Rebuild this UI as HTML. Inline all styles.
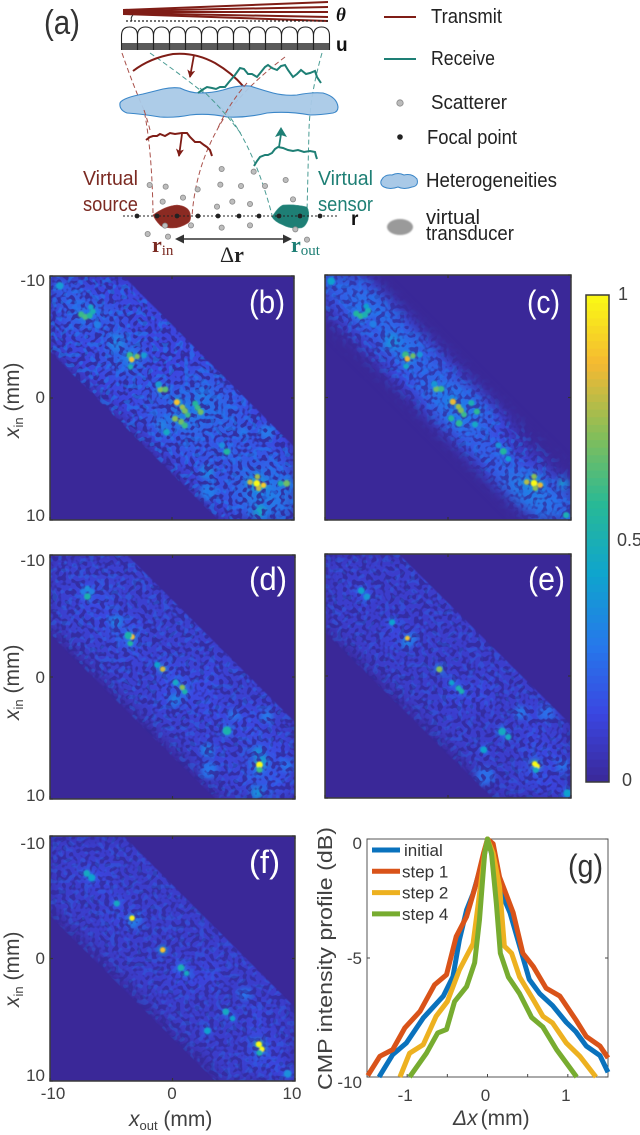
<!DOCTYPE html>
<html lang="en">
<head>
<meta charset="utf-8">
<title>Focused reflection matrix figure</title>
<style>
html,body{margin:0;padding:0;background:#fff;}
svg{display:block;font-family:"Liberation Sans",sans-serif;}
</style>
</head>
<body>
<svg id="figure" width="640" height="1135" viewBox="0 0 640 1135" xmlns="http://www.w3.org/2000/svg">
<defs>
  <filter id="cell-blur" x="-10%" y="-10%" width="120%" height="120%"><feGaussianBlur stdDeviation="7"/></filter>
  <filter id="spot-blur" x="-100%" y="-100%" width="300%" height="300%"><feGaussianBlur stdDeviation="0.8"/></filter>
  <filter id="patch-blur" x="-100%" y="-100%" width="300%" height="300%"><feGaussianBlur stdDeviation="2.6"/></filter>
  <filter id="edge-blur-hard"><feGaussianBlur stdDeviation="0.5"/></filter>
  <filter id="edge-blur-soft"><feGaussianBlur stdDeviation="7"/></filter>
  <filter id="speckle-dark" x="0" y="0" width="100%" height="100%" color-interpolation-filters="sRGB">
    <feTurbulence type="fractalNoise" baseFrequency="0.21" numOctaves="1" seed="4"/>
    <feColorMatrix type="matrix" values="0 0 0 0 0.2  0 0 0 0 0.16  0 0 0 0 0.6  10 0 0 0 -4.9"/>
  </filter>
  <filter id="speckle-light" x="0" y="0" width="100%" height="100%" color-interpolation-filters="sRGB">
    <feTurbulence type="fractalNoise" baseFrequency="0.19" numOctaves="1" seed="11"/>
    <feColorMatrix type="matrix" values="0 0 0 0 0.13  0 0 0 0 0.47  0 0 0 0 0.93  10 0 0 0 -5.3"/>
  </filter>
  <marker id="arrow-red" markerWidth="9" markerHeight="9" refX="7" refY="4" orient="auto" markerUnits="userSpaceOnUse"><path d="M0,0 L8,4 L0,8 L2,4 Z" fill="#7f1d16"/></marker>
</defs>

<g id="schematic">
  <text x="44" y="34" font-size="34" fill="#333" textLength="36" lengthAdjust="spacingAndGlyphs">(a)</text>

  <g fill="#7f1d16">
    <path d="M123,9 L328,1 L328,3 L123,11 Z"/>
    <path d="M123,10 L328,6 L328,8 L123,12 Z"/>
    <path d="M123,11 L328,11 L328,13 L123,13 Z"/>
    <path d="M123,12 L328,16 L328,18 L123,14 Z"/>
    <path d="M123,13 L328,20 L328,22 L123,15 Z"/>
  </g>
  <path d="M133,15 Q130,18 132,21" fill="none" stroke="#333" stroke-width="1"/>
  <line x1="126" y1="21" x2="328" y2="21" stroke="#222" stroke-width="1.2" stroke-dasharray="2 2"/>
  <text x="336" y="21" font-size="19" font-weight="bold" font-style="italic" fill="#111" font-family="Liberation Serif, serif">θ</text>
  <text x="336" y="51" font-size="19" font-weight="bold" fill="#111">u</text>
  <g id="array-elements"></g>

  <path d="M122,53 Q133,85 144,110 Q152,150 153,213" fill="none" stroke="#a9504a" stroke-width="1" stroke-dasharray="5 3"/>
  <path d="M285,57 Q235,95 217,130 Q195,170 192,217" fill="none" stroke="#a9504a" stroke-width="1" stroke-dasharray="5 3"/>
  <path d="M150,53 Q200,88 227,113 Q255,150 272,215" fill="none" stroke="#4a9c94" stroke-width="1" stroke-dasharray="5 3"/>
  <path d="M322,53 Q310,95 309,130 Q308,170 307,213" fill="none" stroke="#4a9c94" stroke-width="1" stroke-dasharray="5 3"/>

  <path d="M133,71 Q150,58 173,54 Q195,52 215,63 Q232,73 243,86" fill="none" stroke="#7f1d16" stroke-width="2"/>
  <line x1="194" y1="55" x2="190" y2="77" stroke="#7f1d16" stroke-width="1.8" marker-end="url(#arrow-red)"/>

  <path d="M120,103 Q122,98 143,94 Q155,91 163,89 Q172,87 180,88 Q190,93 200,93 Q212,93 223,90 Q238,85 250,86 Q262,90 273,93 Q285,96 297,95 Q312,92 323,93 Q337,97 338,107 Q338,112 333,113 Q320,115 310,115 Q288,111 267,113 Q247,118 227,117 Q208,113 190,115 Q175,118 160,117 Q142,114 127,113 Q119,110 120,103 Z" fill="#a9c9e7" fill-opacity="0.95" stroke="#3a86c8" stroke-width="1.1"/>
  <path d="M144,110 Q148,122 150,130" fill="none" stroke="#a9504a" stroke-width="1" stroke-dasharray="5 3"/>
  <path d="M247,83 Q228,105 217,130" fill="none" stroke="#a9504a" stroke-width="1" stroke-dasharray="5 3"/>
  <path d="M200,88 Q222,108 242,135" fill="none" stroke="#4a9c94" stroke-width="1" stroke-dasharray="5 3"/>
  <polyline points="198,93 202,90 207,87 212,88 216,89 220,87 225,87 229,82 235,75 240,68 244,69 248,74 252,74 257,77 261,72 265,67 268,65 272,68 277,70 281,66 285,65 288,70 293,77 297,74 301,70 306,74 310,73 315,71 317,77 321,83" fill="none" stroke="#1e7f75" stroke-width="2"/>

  <polyline points="146,140 150,137 153,136 157,136 160,134 165,136 170,133 175,134 182,133 187,133 190,137 195,142 200,142 204,145 207,147 210,150 212,156" fill="none" stroke="#7f1d16" stroke-width="2"/>
  <line x1="182" y1="134" x2="179" y2="156" stroke="#7f1d16" stroke-width="1.8" marker-end="url(#arrow-red)"/>
  <polyline points="254,166 257,161 260,157 265,155 268,155 272,153 275,149 278,147 283,148 288,150 293,151 298,150 304,152 310,151 315,152 316,156 317,159" fill="none" stroke="#1e7f75" stroke-width="2"/>
  <line x1="279" y1="147" x2="281" y2="134" stroke="#1e7f75" stroke-width="1.8"/>
  <path d="M281,127 L287,137 L281,135 L275,137 Z" fill="#1e7f75"/>

  <path d="M153,215 Q165,206 177,205 Q188,206 190,213 Q192,220 188,223 Q180,228 173,228 Q162,228 160,225 Q155,220 153,215 Z" fill="#8b2a22" stroke="#a9504a" stroke-width="0.6"/>
  <path d="M272,217 Q278,207 283,205 Q295,204 307,207 Q310,212 308,220 Q305,228 300,228 Q290,229 283,225 Q275,222 272,217 Z" fill="#1e7f75" stroke="#4a9c94" stroke-width="0.6"/>
  <line x1="123" y1="216" x2="338" y2="216" stroke="#222" stroke-width="1.1" stroke-dasharray="2 2"/>
  <g id="scatterers"></g>
  <g id="focal-points"></g>
  <text x="351" y="225" font-size="19" font-weight="bold" fill="#111">r</text>

  <text x="83" y="185" font-size="20" fill="#7b2a22" textLength="55" lengthAdjust="spacingAndGlyphs">Virtual</text>
  <text x="83" y="211" font-size="20" fill="#7b2a22" textLength="55" lengthAdjust="spacingAndGlyphs">source</text>
  <text x="318" y="185" font-size="20" fill="#1e7f75" textLength="55" lengthAdjust="spacingAndGlyphs">Virtual</text>
  <text x="318" y="211" font-size="20" fill="#1e7f75" textLength="55" lengthAdjust="spacingAndGlyphs">sensor</text>

  <line x1="180" y1="239" x2="288" y2="239" stroke="#333" stroke-width="1.6"/>
  <path d="M175,239 L184,234.5 L184,243.5 Z" fill="#333"/>
  <path d="M292,239 L283,234.5 L283,243.5 Z" fill="#333"/>
  <text x="220" y="262" font-size="22" font-family="Liberation Serif, serif" fill="#222">Δ<tspan font-weight="bold">r</tspan></text>
  <text x="152" y="252" font-size="22" font-weight="bold" font-family="Liberation Serif, serif" fill="#7b2a22">r<tspan dy="3" font-size="15" font-weight="normal">in</tspan></text>
  <text x="291" y="252" font-size="22" font-weight="bold" font-family="Liberation Serif, serif" fill="#1e7f75">r<tspan dy="3" font-size="15" font-weight="normal">out</tspan></text>

  <g font-size="20" fill="#222">
    <line x1="384" y1="17" x2="416" y2="17" stroke="#7f1d16" stroke-width="2"/>
    <text x="431" y="23" textLength="71" lengthAdjust="spacingAndGlyphs">Transmit</text>
    <line x1="384" y1="59" x2="416" y2="59" stroke="#1e7f75" stroke-width="2"/>
    <text x="431" y="65" textLength="64" lengthAdjust="spacingAndGlyphs">Receive</text>
    <circle cx="400" cy="103" r="3.2" fill="#bbb" stroke="#888" stroke-width="0.8"/>
    <text x="431" y="109" textLength="76" lengthAdjust="spacingAndGlyphs">Scatterer</text>
    <circle cx="400" cy="137" r="2.8" fill="#222"/>
    <text x="427" y="144" textLength="90" lengthAdjust="spacingAndGlyphs">Focal point</text>
    <path d="M381,181 Q384,174 392,175 Q398,172 404,175 Q412,173 417,179 Q419,186 412,187 Q404,190 398,187 Q390,190 384,187 Q380,185 381,181 Z" fill="#a9c9e7" stroke="#3a86c8" stroke-width="1"/>
    <text x="426" y="187" textLength="131" lengthAdjust="spacingAndGlyphs">Heterogeneities</text>
    <ellipse cx="400" cy="227" rx="13" ry="8" fill="#9a9a9a" filter="url(#spot-blur)"/>
    <text x="426" y="224" textLength="54" lengthAdjust="spacingAndGlyphs">virtual</text>
    <text x="426" y="240" textLength="88" lengthAdjust="spacingAndGlyphs">transducer</text>
  </g>
</g>

<g id="heatmaps"></g>
<g id="colorbar"></g>

<g id="profile-chart"></g>
</svg>

<script>
// Panel (b)-(f): coarse intensity rows (digit = level)
var gridB = ["4433332000000000","4543333200000000","3565433320000000","3444433332000000","3333543333200000","0334563333320000","0033443334433000","0003334445544300","0000334466654330","0000034556554333","0000003445444433","0000000344454443","0000000033435454","0000000003445765","0000000000345776","0000000000034565"];
var gridC = ["5543100000000000","4565310000000000","2466531000000000","1245542100000000","0124664210000000","0012465421000000","0001345531000000","0000135664200000","0000013666420000","0000002466531000","0000001245431000","0000000124542100","0000000012454310","0000000001357642","0000000000136765","0000000000012565"];
var gridD = ["3333332000000000","3333333200000000","3345333320000000","3344333332000000","3334543333200000","0333553333320000","0033343333333000","0003333443433300","0000333454433330","0000033444433333","0000003333444433","0000000333334433","0000000033433544","0000000003343654","0000000000334654","0000000000033454"];
var gridE = ["3333332000000000","3333333200000000","3343333320000000","3333333332000000","3333433333200000","0333443333320000","0033333333333000","0003333333333300","0000333343433330","0000033344433333","0000003333333433","0000000333333433","0000000033333443","0000000003333544","0000000000333543","0000000000033344"];
var gridF = ["3333332000000000","3333333200000000","3344333320000000","3334333332000000","3333433333200000","0333443333320000","0033333333333000","0003333333333300","0000333343433330","0000033344433333","0000003333333333","0000000333333433","0000000033333433","0000000003333543","0000000000333543","0000000000033344"];

// Hot spots: x_out mm, x_in mm, peak value, radius mm
var spotsB = [[-7.45,-6.85,.6,.2],[-7.1,-6.65,.62,.2],[-6.75,-6.75,.55,.2],[-6.5,-7.1,.5,.2],[-6.65,-7.45,.45,.18],[-6.1,-6,.3,.25],[-4.55,-4.55,.35,.55],[-3.45,-3.5,.6,.22],[-3.3,-3.15,.88,.18],[-2.85,-3.4,.7,.18],[-2.3,-3.5,.4,.2],[-3.4,-2.55,.5,.18],[-.95,-.7,.72,.2],[-.55,-.7,.65,.2],[-1.1,-1.1,.4,.22],[.4,.35,.88,.2],[.85,.75,.75,.18],[1.05,1.05,.7,.2],[1.3,1.4,.6,.18],[1.9,.45,.55,.2],[2.1,.8,.6,.2],[2.35,1.15,.68,.2],[.25,1.7,.72,.2],[.75,1.95,.68,.2],[1.05,2.25,.6,.2],[-.45,2.8,.45,.22],[-.8,2.2,.35,.35],[4.5,4.4,.55,.22],[4.1,3.9,.35,.2],[2.85,6.05,.38,.45],[3,7.7,.33,.55],[6.95,7,1,.22],[6.4,6.9,.8,.18],[7.5,7.15,.9,.18],[7,6.45,.75,.18],[7.1,7.4,.8,.18],[9.4,7,.68,.22],[8.9,7,.5,.2],[7.2,9.3,.5,.4],[7.75,2.8,.32,.5],[5.85,2.8,.32,.35],[-9.2,-9.2,.4,.25],[2.5,-.4,.35,.35]];
var spotsC = [[-7.45,-6.85,.55,.2],[-7.1,-6.65,.58,.2],[-6.75,-6.75,.5,.2],[-6.5,-7.1,.5,.2],[-6.65,-7.45,.42,.18],[-6.1,-6,.3,.25],[-4.55,-4.55,.38,.55],[-3.45,-3.5,.6,.22],[-3.3,-3.15,.85,.18],[-2.85,-3.4,.68,.18],[-2.3,-3.5,.38,.2],[-3.4,-2.55,.45,.18],[-.95,-.7,.68,.2],[-.55,-.7,.6,.2],[-1.1,-1.1,.38,.22],[.4,.35,.85,.2],[.85,.75,.75,.18],[1.05,1.05,.7,.2],[1.3,1.4,.6,.18],[1.9,.45,.5,.2],[2.35,1.15,.58,.2],[.25,1.7,.55,.2],[.9,2.1,.58,.22],[2.2,2.2,.45,.2],[4.5,4.4,.55,.22],[4.1,3.9,.38,.2],[4.9,5,.42,.18],[7,7,1.05,.22],[6.4,6.9,.78,.18],[7.5,7.15,.85,.18],[7,6.45,.72,.18],[7.1,7.4,.72,.18],[9.4,7,.45,.35],[9.6,9.6,.5,.2],[-9.5,-9.5,.42,.25]];
var spotsD = [[-6.95,-6.6,.52,.22],[-6.95,-7.25,.36,.2],[-6.6,-7,.32,.2],[-7.3,-7,.3,.2],[-4.6,-4.55,.36,.4],[-3.3,-3.3,.88,.18],[-3.6,-3.4,.52,.25],[-3.45,-2.75,.55,.18],[-.8,-.65,.82,.18],[-1.25,-1,.42,.2],[.25,.45,.45,.2],[.8,.85,.72,.18],[1,1.2,.52,.18],[.2,1.85,.36,.4],[4.45,4.4,.52,.28],[2.85,6,.36,.4],[3,7.6,.3,.55],[7.1,7.2,1.05,.22],[7.1,7.6,.6,.2],[7,6.2,.42,.35],[7.4,6.9,.45,.35],[6.9,9.5,.42,.4],[7.7,3.2,.32,.4],[5,3.1,.32,.35],[9.3,7.3,.3,.4]];
var spotsE = [[-7.05,-7,.42,.22],[-6.6,-6.5,.38,.22],[-4.55,-4.4,.42,.2],[-3.3,-3.1,.88,.16],[-3.35,-2.7,.36,.35],[-2.9,-3.1,.32,.35],[-.7,-.55,.72,.2],[.3,.55,.42,.18],[.85,1,.5,.18],[1.1,1.25,.5,.18],[4.4,4.55,.46,.25],[4.9,5,.46,.2],[2.9,6.05,.42,.22],[5.9,3,.32,.4],[8,3,.28,.5],[3,8.2,.28,.6],[7.05,7.2,1.1,.18],[7.25,7.4,1.05,.18],[7.15,7.7,.46,.2],[9.7,9.6,.42,.25],[9.3,7.3,.3,.4]];
var spotsF = [[-7,-6.95,.46,.22],[-6.6,-6.6,.42,.24],[-4.55,-4.5,.46,.2],[-3.3,-3.3,.98,.18],[-3.2,-2.9,.36,.35],[-2.9,-3.2,.3,.35],[-.8,-.7,.88,.18],[.7,.75,.5,.22],[1.15,1.2,.46,.18],[4.35,4.35,.46,.22],[4.9,4.9,.42,.18],[2.85,5.9,.42,.22],[5.9,2.9,.3,.4],[7.05,7,1.12,.2],[7.3,7.4,1.05,.18],[7.1,7.7,.5,.2],[9.4,9.4,.36,.25]];

// Band half-widths (mm) above and below the diagonal
var bandUpper = [6, 3.4, 6.3, 6, 6];
var bandLower = [6.2, 3.4, 6.5, 6.4, 6.5];
var gridDivisor = [22, 22, 28, 30, 30];
var darkTexture = [.85, .7, .8, .8, .75];
var lightTexture = [.6, .5, .35, .28, .28];

var panelNames = ["b","c","d","e","f"];
var panelGrids = [gridB, gridC, gridD, gridE, gridF];
var panelSpots = [spotsB, spotsC, spotsD, spotsE, spotsF];
var axisTicks = [-10, 0, 10];

// Profile chart (g): values
var xInitial = [-1.35,-1.18,-1.01,-.8,-.55,-.43,-.35,-.26,-.18,-.035,0,.05,.15,.28,.4,.52,.65,.81,.98,1.1,1.23,1.4,1.5];
var yInitial = [-10,-9.06,-8.57,-7.52,-6.6,-5.78,-4.24,-2.98,-2.3,-.6,0,-.6,-2.07,-3.1,-4.5,-5.9,-6.5,-7,-7.7,-8.1,-8.7,-9.1,-9.8];
var xStep1 = [-1.49,-1.34,-1.18,-1.03,-.84,-.66,-.51,-.39,-.26,-.14,-.05,0,.07,.15,.23,.32,.44,.57,.73,.9,1.1,1.23,1.4,1.5];
var yStep1 = [-9.94,-9.13,-8.85,-7.94,-7.24,-6.13,-5.7,-4.1,-3.26,-1.86,-.6,0,-.2,-1.6,-2.3,-3.1,-4.8,-5.36,-6.27,-6.6,-7.6,-8.3,-8.7,-9.2];
var xStep2 = [-1.09,-.97,-.8,-.64,-.5,-.35,-.18,-.12,-.035,0,.07,.15,.21,.3,.4,.57,.69,.81,.98,1.15,1.35];
var yStep2 = [-10,-9,-8.64,-7.45,-6.83,-5.5,-4.4,-2.84,-.6,0,-.6,-2,-4.5,-4.8,-5.8,-6.75,-7.45,-7.73,-8.57,-9.13,-10];
var xStep4 = [-.97,-.76,-.62,-.51,-.41,-.26,-.16,-.1,-.035,0,.05,.11,.16,.26,.4,.55,.69,.86,.98,1.11];
var yStep4 = [-10,-9,-8.15,-8,-6.83,-6.2,-5.2,-3.4,-.6,0,-.6,-2.7,-4.8,-5.8,-6.5,-7.5,-7.9,-8.85,-9.4,-10];
var seriesLabels = ["initial","step 1","step 2","step 4"];
var seriesColors = ["#0a72bd","#d95319","#edb120","#77ac30"];
var seriesX = [xInitial, xStep1, xStep2, xStep4];
var seriesY = [yInitial, yStep1, yStep2, yStep4];
var profileXTicks = [-1,-.5,0,.5,1];
var profileXLabels = ["-1","","0","","1"];
var profileYTicks = [0,-5,-10];
var profileYLabels = ["0","-5","-10"];

// Colour bar
var colorbarTicks = [0, .5, 1];
var colorbarLabels = ["0","0.5","1"];
var colorbarLevels = 64;

// Schematic marks
var scatterers = [[239,165],[287,170],[383,178],[339,203],[278,215],[455,117],[451,164],[513,168],[551,125],[585,168],[647,150],[669,208],[487,215],[441,230],[540,222],[285,287],[363,286],[455,293],[540,286],[676,298],[233,312],[294,320],[711,329]];
var focalPoints = [137,157,177,198,218,239,259,279,300,320];
var arrayElementCount = 13;

var NS = "http://www.w3.org/2000/svg";
var PARULA = [[0,58,40,152],[.14,58,70,225],[.28,38,120,235],[.43,15,165,205],[.57,40,185,150],[.71,130,190,90],[.86,245,185,50],[1,250,250,20]];
function parula(v){
  v=Math.max(0,Math.min(1,v));
  for(var i=1;i<PARULA.length;i++){
    if(v<=PARULA[i][0]){
      var a=PARULA[i-1],b=PARULA[i],t=(v-a[0])/(b[0]-a[0]);
      return "rgb("+Math.round(a[1]+t*(b[1]-a[1]))+","+Math.round(a[2]+t*(b[2]-a[2]))+","+Math.round(a[3]+t*(b[3]-a[3]))+")";
    }
  }
  return "rgb(250,250,20)";
}
function mk(tag,attrs,parent){
  var e=document.createElementNS(NS,tag);
  for(var k in attrs){e.setAttribute(k,attrs[k]);}
  if(parent){parent.appendChild(e);}
  return e;
}

// Panel frames: [left, top, width, height]
var frames = [[50,276,244,244],[325,275,246,245],[50,555,245,244],[325,554,246,244],[50,836,245,245]];
var labelPos = [[249,313,36],[527,313,33],[249,590,38],[528,590,37],[249,873,31]];
var yLabelAnchors = [[19,438],null,[19,720],null,[19,1007]];
var tickYs = [[286,403,521],null,[566,683,801],null,[849,964,1081]];
var root = document.getElementById("heatmaps");
var defs = document.querySelector("defs");

panelNames.forEach(function(name,pi){
  var f=frames[pi], L=f[0],T=f[1],W=f[2],H=f[3];
  function sx(v){return L+(v+10)/20*W;}
  function sy(v){return T+(v+10)/20*H;}
  var g=mk("g",{},root);
  
  

  var clipId="clip-"+name, maskId="mask-"+name;
  var cp=mk("clipPath",{id:clipId},defs);
  mk("rect",{x:L,y:T,width:W,height:H},cp);
  var mask=mk("mask",{id:maskId,maskUnits:"userSpaceOnUse",x:L-20,y:T-20,width:W+40,height:H+40},defs);
  var u=bandUpper[pi], d=bandLower[pi];
  var pts=[[-20,-20-u],[30,30-u],[30,30+d],[-20,-20+d]].map(function(p){return sx(p[0])+","+sy(p[1]);}).join(" ");
  mk("polygon",{points:pts,fill:"#fff",filter:"url(#"+(name==="c"?"edge-blur-soft":"edge-blur-hard")+")"},mask);

  var bg=mk("rect",{x:L,y:T,width:W,height:H,fill:parula(0)},g);
  
  

  var clipped=mk("g",{"clip-path":"url(#"+clipId+")"},g);
  var masked=mk("g",{mask:"url(#"+maskId+")"},clipped);
  var cells=mk("g",{filter:"url(#cell-blur)"},masked);
  var grid=panelGrids[pi], n=grid.length;
  grid.forEach(function(row,r){
    for(var c=0;c<row.length;c++){
      var val=+row[c]/gridDivisor[pi];
      var rc=mk("rect",{x:sx(-10+c*20/n)-.3,y:sy(-10+r*20/n)-.3,width:W/n+.6,height:H/n+.6,fill:parula(val)},cells);
      
      
    }
  });

  // Broad halos sit under the speckle so they stay mottled; bright cores sit above it
  var patches=mk("g",{filter:"url(#patch-blur)"},masked);
  panelSpots[pi].forEach(function(s){
    var big=s[3]>=.35;
    var rad=s[3]/20*W*(big?1.3:1.9);
    var h=mk("circle",{cx:sx(s[0]),cy:sy(s[1]),r:rad,fill:parula(s[2]*(big?.9:.5))},patches);
    
    
  });
  var dark=mk("rect",{x:L,y:T,width:W,height:H,filter:"url(#speckle-dark)",opacity:darkTexture[pi]},masked);
  
  
  var light=mk("rect",{x:L,y:T,width:W,height:H,filter:"url(#speckle-light)",opacity:lightTexture[pi]},masked);
  
  

  var cores=mk("g",{filter:"url(#spot-blur)"},masked);
  panelSpots[pi].forEach(function(s){
    if(s[3]>=.35){return;}
    var rad=s[3]/20*W*1.25;
    var h=mk("circle",{cx:sx(s[0]),cy:sy(s[1]),r:rad,fill:parula(s[2])},cores);
    
    
  });

  var frame=mk("rect",{x:L,y:T,width:W,height:H,fill:"none",stroke:"#3a3a3a","stroke-width":1.5},g);
  
  
  axisTicks.forEach(function(t){
    var a=mk("line",{x1:sx(t),y1:T,x2:sx(t),y2:T+3,stroke:"#333","stroke-width":1.2},g);
    
    
    var b=mk("line",{x1:sx(t),y1:T+H,x2:sx(t),y2:T+H-3,stroke:"#333","stroke-width":1.2},g);
    
    
    var c=mk("line",{x1:L,y1:sy(t),x2:L+3,y2:sy(t),stroke:"#333","stroke-width":1.2},g);
    
    
    var e=mk("line",{x1:L+W,y1:sy(t),x2:L+W-3,y2:sy(t),stroke:"#333","stroke-width":1.2},g);
    
    
  });

  var lp=labelPos[pi];
  var lab=mk("text",{x:lp[0],y:lp[1],"font-size":32,fill:"#fff",textLength:lp[2],lengthAdjust:"spacingAndGlyphs"},g);
  lab.textContent="("+name+")";
  
  

  if(yLabelAnchors[pi]){
    tickYs[pi].forEach(function(y,i){
      var t=mk("text",{x:45,y:y,"font-size":17,fill:"#404040","text-anchor":"end"},g);
      t.textContent=String(axisTicks[i]);
      
      
    });
    var a=yLabelAnchors[pi];
    var yl=mk("text",{transform:"translate("+a[0]+","+a[1]+") rotate(-90)","font-size":21,fill:"#404040"},g);
    
    
    var t1=mk("tspan",{"font-style":"italic"},yl); t1.textContent="x";
    var t2=mk("tspan",{"font-size":13,dy:4}, yl); t2.textContent="in";
    var t3=mk("tspan",{dy:-4},yl); t3.textContent=" (mm)";
  }
  if(name==="f"){
    axisTicks.forEach(function(v,i){
      var t=mk("text",{x:[53,172,292][i],y:1099,"font-size":17,fill:"#404040","text-anchor":"middle"},g);
      t.textContent=String(v);
      
      
    });
    var xl=mk("text",{x:129,y:1126,"font-size":21,fill:"#404040"},g);
    
    
    var x1=mk("tspan",{"font-style":"italic"},xl); x1.textContent="x";
    var x2=mk("tspan",{"font-size":13,dy:4},xl); x2.textContent="out";
    var x3=mk("tspan",{dy:-4},xl); x3.textContent=" (mm)";
  }
});

// Colour bar
(function(){
  var g=document.getElementById("colorbar");
  var L=586,T=295,W=23,H=487;
  function cy(v){return T+(1-v)*H;}
  for(var i=0;i<colorbarLevels;i++){
    var v0=i/colorbarLevels, v1=(i+1)/colorbarLevels;
    var r=mk("rect",{x:L,y:cy(v1),width:W,height:cy(v0)-cy(v1)+.5,fill:parula((v0+v1)/2)},g);
    
    
  }
  var fr=mk("rect",{x:L,y:T,width:W,height:H,fill:"none",stroke:"#3a3a3a","stroke-width":1.5},g);
  
  
  colorbarTicks.forEach(function(v,i){
    var t=mk("text",{x:[622,617,618][i],y:[786,546,300][i],"font-size":18,fill:"#404040"},g);
    t.textContent=colorbarLabels[i];
    
    
  });
})();

// Profile chart
(function(){
  var g=document.getElementById("profile-chart");
  var L=367,T=839,W=241,H=238;
  function px(v){return L+(v+1.5)/3*W;}
  function py(v){return T-v/10*H;}
  var cp=mk("clipPath",{id:"profile-clip"},defs);
  mk("rect",{x:L-3,y:T-3,width:W+6,height:H+5},cp);
  var fr=mk("rect",{x:L,y:T,width:W,height:H,fill:"none",stroke:"#555","stroke-width":1},g);
  
  
  profileXTicks.forEach(function(v,i){
    var tk=mk("line",{x1:px(v),y1:T+H,x2:px(v),y2:T+H-3,stroke:"#444"},g);
    
    
    if(profileXLabels[i]){
      var t=mk("text",{x:px(v)-2,y:1101,"font-size":17,fill:"#404040","text-anchor":"middle"},g);
      t.textContent=profileXLabels[i];
      
      
    }
  });
  profileYTicks.forEach(function(v,i){
    var tk=mk("line",{x1:L,y1:py(v),x2:L+3,y2:py(v),stroke:"#444"},g);
    
    
    var tr=mk("line",{x1:L+W,y1:py(v),x2:L+W-3,y2:py(v),stroke:"#444"},g);
    
    
    var t=mk("text",{x:362,y:py(v)+[10,6,11][i],"font-size":17,fill:"#404040","text-anchor":"end"},g);
    t.textContent=profileYLabels[i];
    
    
  });
  var lines=mk("g",{"clip-path":"url(#profile-clip)"},g);
  seriesX.forEach(function(xs,i){
    var pts=xs.map(function(x,j){return px(x)+","+py(seriesY[i][j]);}).join(" ");
    var pl=mk("polyline",{points:pts,fill:"none",stroke:seriesColors[i],"stroke-width":5,"stroke-linejoin":"round"},lines);
    
    
  });
  seriesLabels.forEach(function(lbl,i){
    var y=850+i*21.3;
    var ln=mk("line",{x1:372,y1:y,x2:400,y2:y,stroke:seriesColors[i],"stroke-width":5},g);
    
    
    var t=mk("text",{x:i===0?404:402,y:y+6,"font-size":17,fill:"#333"},g);
    t.textContent=lbl;
    
    
  });
  var glabel=mk("text",{x:568,y:877,"font-size":32,fill:"#333",textLength:35,lengthAdjust:"spacingAndGlyphs"},g);
  glabel.textContent="(g)";
  
  
  var yt=mk("text",{transform:"translate(332,1090) rotate(-90)","font-size":20,fill:"#404040",textLength:263,lengthAdjust:"spacingAndGlyphs"},g);
  yt.textContent="CMP intensity profile (dB)";
  
  
  var xt=mk("text",{x:453,y:1125,"font-size":21,fill:"#404040"},g);
  
  
  var a=mk("tspan",{"font-style":"italic"},xt); a.textContent="Δx";
  var b=mk("tspan",{dx:3},xt); b.textContent="(mm)";
})();

// Schematic marks from arrays
(function(){
  var arr=document.getElementById("array-elements");
  var L=121.5,w=16;
  var band=mk("rect",{x:L,y:43,width:w*arrayElementCount,height:7,fill:"#5a5a5a"},arr);
  
  
  for(var i=0;i<arrayElementCount;i++){
    var x=L+i*w;
    var el=mk("path",{d:"M"+x+",50 L"+x+",36 Q"+x+",27 "+(x+8)+",27 Q"+(x+w)+",27 "+(x+w)+",36 L"+(x+w)+",50",fill:"none",stroke:"#222","stroke-width":1.1},arr);
    
    
  }
  var sg=document.getElementById("scatterers");
  scatterers.forEach(function(p){
    var c=mk("circle",{cx:70+p[0]/3,cy:130+p[1]/3,r:2.6,fill:"#bdbdbd",stroke:"#8a8a8a","stroke-width":.8},sg);
    
    
  });
  var fg=document.getElementById("focal-points");
  focalPoints.forEach(function(x){
    var c=mk("circle",{cx:x,cy:216,r:2.4,fill:"#222"},fg);
    
    
  });
})();
</script>
</body>
</html>
